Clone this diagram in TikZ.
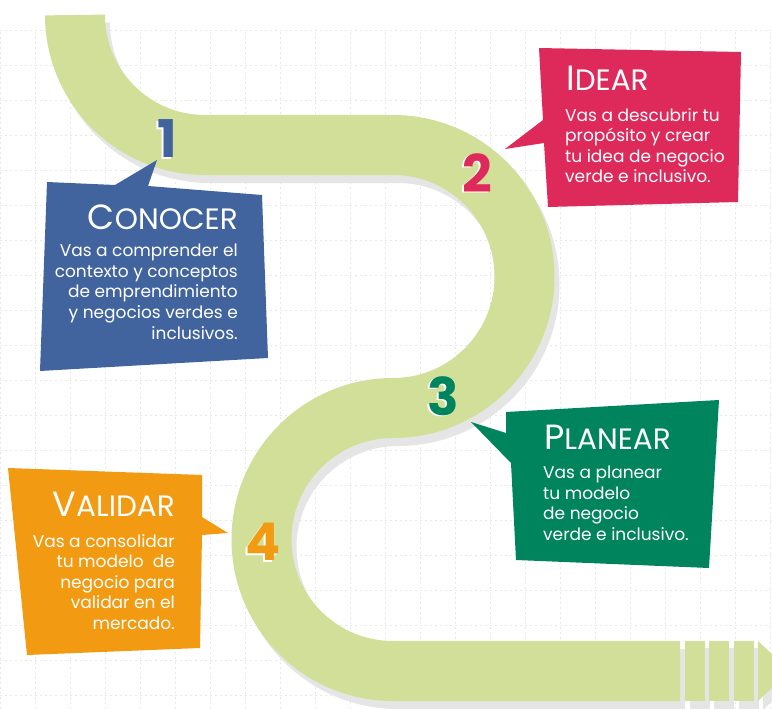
\documentclass[tikz,border=0pt]{standalone}
\usepackage{fontspec}
\setmainfont{Poppins}
\usetikzlibrary{calc}
\definecolor{road}{RGB}{209,223,153}
\definecolor{roadshade}{RGB}{229,229,229}
\definecolor{gridgray}{RGB}{232,232,232}
\definecolor{cblue}{RGB}{65,100,158}
\definecolor{cred}{RGB}{222,42,91}
\definecolor{cgreen}{RGB}{0,132,94}
\definecolor{corange}{RGB}{242,155,18}
\def\smcap#1#2{{\fontsize{35}{35}\selectfont #1}{\fontsize{29.5}{29.5}\selectfont #2}}
\tikzset{
	titletxt/.style={text=white, inner sep=0pt},
	bodytxt/.style={text=white, inner sep=0pt, font=\fontsize{17}{20.6}\selectfont},
	stepnum/.style={inner sep=0pt, font=\fontsize{52}{52}\selectfont\bfseries},
}

\begin{document}
\begin{tikzpicture}[x=1pt, y=1pt]
		%%%%% START %%%%%
		\useasboundingbox (0, 0) rectangle (772, -709);
		\clip (0, 0) rectangle (772, -709);
		\fill[white] (0, 0) rectangle (772, -709);
		
		\draw[gridgray, line width=0.8pt, dash pattern=on 2pt off 3pt, step=35, shift={(0, 5)}] (0, -35) grid (772, -714);
		
		% road shadow
		\draw[roadshade, line width=60pt, shift={(5, -8)}] (75, -15) arc (180:270:130) -- (393, -145) arc (90:-90:131.5) arc (90:270:131.5) -- (680, -671);
		\fill[roadshade] (690, -648) rectangle (710, -710);
		\fill[roadshade] (714, -648) rectangle (734, -710);
		\fill[roadshade] (739, -648) rectangle (759, -710);
		\fill[roadshade] (763, -648) -- (795, -679) -- (763, -710) -- cycle;
		
		% road
		\draw[road, line width=60pt] (75, -15) arc (180:270:130) -- (393, -145) arc (90:-90:131.5) arc (90:270:131.5) -- (680, -671);
		\fill[road] (685, -641) rectangle (705, -701);
		\fill[road] (709, -641) rectangle (729, -701);
		\fill[road] (734, -641) rectangle (754, -701);
		\fill[road] (758, -641) -- (790, -671) -- (758, -701) -- cycle;
		
		% callouts
		\fill[cblue] (47, -182) -- (115, -185) -- (157, -160) -- (148, -186) -- (262, -195) -- (268, -358) -- (40, -371) -- cycle;
		\fill[cred] (539, -48) -- (741, -52) -- (738, -202) -- (548, -207) -- (544, -143) -- (505, -149) -- (543, -120) -- cycle;
		\fill[cgreen] (506, -412) -- (719, -400) -- (709, -568) -- (516, -560) -- (511, -463) -- (471, -422) -- (506, -433) -- cycle;
		\fill[corange] (8, -468) -- (202, -475) -- (202, -517) -- (228, -533) -- (202, -535) -- (200, -648) -- (27, -655) -- cycle;
		
		% step numbers
		\node[stepnum, white] (num1w) at (165.5, -140.5) {1};
		\node[stepnum, cblue] (num1) at (167, -139) {1};
		\node[stepnum, white] (num2w) at (475.5, -174.5) {2};
		\node[stepnum, cred] (num2) at (477, -173) {2};
		\node[stepnum, white] (num3w) at (441.5, -397.5) {3};
		\node[stepnum, cgreen] (num3) at (443, -396) {3};
		\node[stepnum, white] (num4w) at (261.5, -543.5) {4};
		\node[stepnum, corange] (num4) at (263, -542) {4};
		
		% texts
		\node[titletxt, anchor=base east] (conocer) at (238, -229) {\smcap{C}{ONOCER}};
		\node[bodytxt, anchor=north east, align=right] (conocertxt) at (238, -244) {Vas a comprender el\\contexto y conceptos\\de emprendimiento\\y negocios verdes e\\inclusivos.};
		
		\node[titletxt, anchor=base west] (idear) at (566, -91) {\smcap{I}{DEAR}};
		\node[bodytxt, anchor=north west, align=left] (ideartxt) at (565, -108) {Vas a descubrir tu\\propósito y crear\\tu idea de negocio\\verde e inclusivo.};
		
		\node[titletxt, anchor=base west] (planear) at (544, -449) {\smcap{P}{LANEAR}};
		\node[bodytxt, anchor=north west, align=left] (planeartxt) at (543, -466) {Vas a planear\\tu modelo\\de negocio\\verde e inclusivo.};
		
		\node[titletxt, anchor=base east] (validar) at (175, -516) {\smcap{V}{ALIDAR}};
		\node[bodytxt, anchor=north east, align=right] (validartxt) at (175, -534) {Vas a consolidar\\tu modelo\ \ de\\negocio para\\validar en el\\mercado.};
		%%%%% END %%%%%
\end{tikzpicture}
\end{document}
